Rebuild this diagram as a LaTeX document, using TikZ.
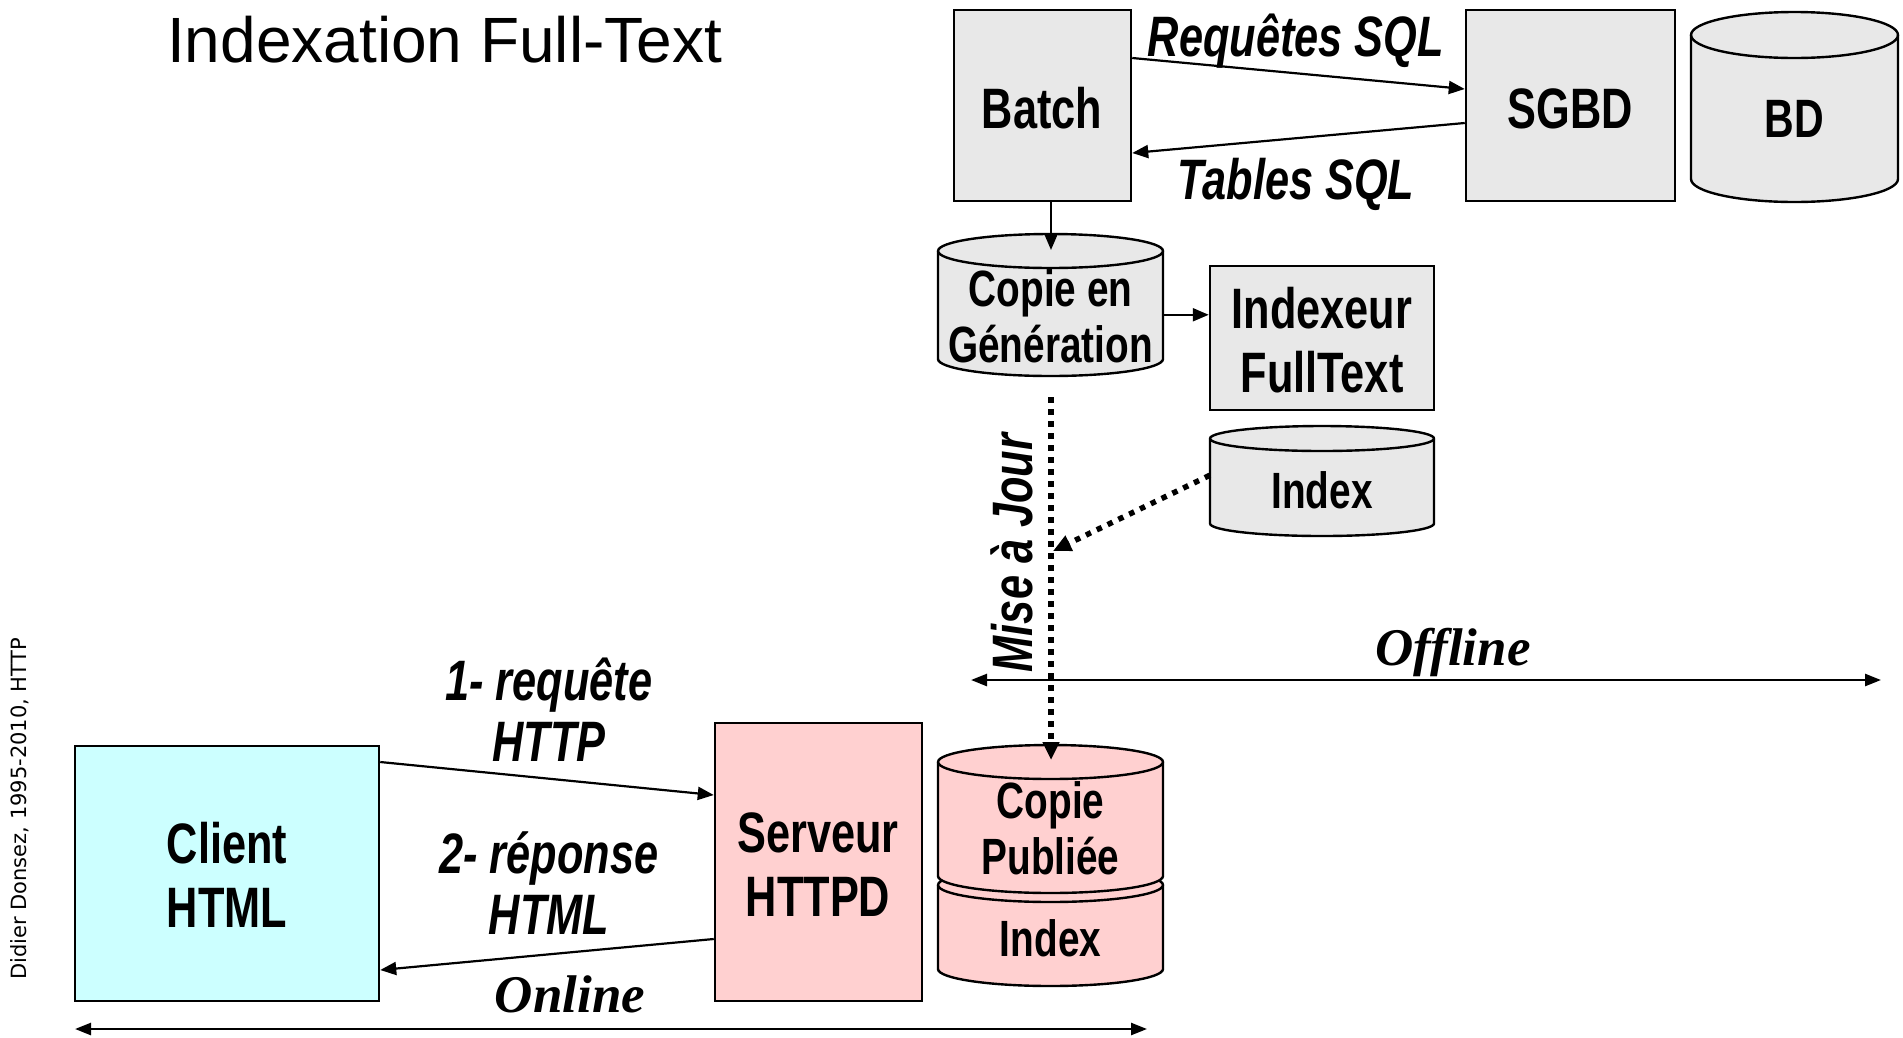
\documentclass[tikz,border=0pt]{standalone}
\usepackage{fontspec}
\setmainfont{Liberation Sans}
\newfontfamily\lblfont[FakeStretch=0.76]{Liberation Sans}
\newfontfamily\seriffont{Liberation Serif}
\newfontfamily\sidefont{DejaVu Sans}
\usetikzlibrary{arrows.meta}
\definecolor{boxgrey}{HTML}{E8E8E8}
\definecolor{cyanfill}{HTML}{CCFFFF}
\definecolor{pinkfill}{HTML}{FFD0D0}
\tikzset{
  box/.style={draw, line width=2.5pt, inner sep=0pt},
  lbl/.style={font=\lblfont\bfseries\fontsize{57}{64}\selectfont, align=center, inner sep=0pt, anchor=base},
  cyllbl/.style={font=\lblfont\bfseries\fontsize{51}{56}\selectfont, align=center, inner sep=0pt, anchor=base},
  ital/.style={font=\lblfont\bfseries\itshape\fontsize{57}{61}\selectfont, align=center, inner sep=0pt, anchor=base},
  timesital/.style={font=\seriffont\bfseries\itshape\fontsize{53}{60}\selectfont, inner sep=0pt, anchor=base},
  conn/.style={line width=2.2pt, -{Triangle[length=16pt,width=13pt]}},
  dotconn/.style={line width=5.5pt, dash pattern=on 5.5pt off 6.5pt, -{Triangle[length=18pt,width=16pt]}},
  bothconn/.style={line width=2.5pt, {Triangle[length=16pt,width=12pt]}-{Triangle[length=16pt,width=12pt]}},
  cylline/.style={line width=2.4pt},
}
\newcommand{\cylbody}[6]{%
  \pgfmathsetmacro{\cylrx}{((#2)-(#1))/2}%
  \filldraw[cylline, fill=#6] (#1,-#3-#5) -- (#1,-#4+#5)
     arc[start angle=180,end angle=360,x radius=\cylrx pt,y radius=#5pt]
     -- (#2,-#3-#5)
     arc[start angle=0,end angle=180,x radius=\cylrx pt,y radius=#5pt] -- cycle;
  \draw[cylline] (#1,-#3-#5) arc[start angle=180,end angle=360,x radius=\cylrx pt,y radius=#5pt];
}
\begin{document}
\begin{tikzpicture}[x=1pt,y=1pt]
\useasboundingbox (0,0) rectangle (1903,-1037);

% title and side note
\node[font=\fontsize{64}{70}\selectfont, inner sep=0pt, anchor=base west] (title) at (167,-62) {Indexation Full-Text};
\node[font=\sidefont\fontsize{21}{24}\selectfont, inner sep=0pt, anchor=base, rotate=90] (side) at (27,-809) {Didier Donsez, 1995-2010, HTTP};

% boxes
\node[box, fill=boxgrey, minimum width=177pt, minimum height=191pt] (batch) at (1042.5,-105.5) {};
\node[box, fill=boxgrey, minimum width=209pt, minimum height=191pt] (sgbd) at (1570.5,-105.5) {};
\node[box, fill=boxgrey, minimum width=224pt, minimum height=144pt] (indexeur) at (1322,-338) {};
\node[box, fill=cyanfill, minimum width=304pt, minimum height=255pt] (client) at (227,-873.5) {};
\node[box, fill=pinkfill, minimum width=207pt, minimum height=278pt] (serveur) at (818.5,-862) {};

% cylinders
\cylbody{1691}{1898}{12}{202}{23}{boxgrey}
\cylbody{938}{1163}{234}{376}{17}{boxgrey}
\cylbody{1210}{1434}{426}{536}{12.5}{boxgrey}
\cylbody{938}{1163}{868}{986}{17}{pinkfill}
\cylbody{938}{1163}{745}{893}{17}{pinkfill}

% labels (base = baseline of the last line)
\node[lbl] (batchtxt) at (1042,-128) {Batch};
\node[lbl] (sgbdtxt) at (1570,-128) {SGBD};
\node[lbl, font=\lblfont\bfseries\fontsize{54}{60}\selectfont] (bd) at (1794,-137) {BD};
\node[lbl] (indexeurtxt) at (1322,-392) {Indexeur\\FullText};
\node[lbl] (clienttxt) at (227,-927) {Client\\HTML};
\node[lbl] (serveurtxt) at (818,-916) {Serveur\\HTTPD};
\node[cyllbl, minimum width=225pt] (cgen) at (1050.5,-362) {Copie en\\Génération};
\node[cyllbl, minimum width=224pt] (idxg) at (1322,-508) {Index};
\node[cyllbl, minimum width=225pt] (cpub) at (1050.5,-874) {Copie\\Publiée};
\node[cyllbl, minimum width=225pt] (idxp) at (1050.5,-956) {Index};

\node[ital] (req) at (1296,-56) {Requêtes SQL};
\node[ital] (tab) at (1296,-199) {Tables SQL};
\node[ital] (l1) at (549,-761) {1- requête\\HTTP};
\node[ital] (l2) at (549,-934) {2- réponse\\HTML};
\node[ital, rotate=90] (maj) at (1032,-553) {Mise à Jour};
\node[timesital] (offline) at (1453,-665) {Offline};
\node[timesital] (online) at (570,-1012) {Online};

% coordinates
\coordinate (cgtop) at (1051,-250);
\coordinate (mjtop) at (1051,-397);
\coordinate (cpubtop) at (1051,-760);
\coordinate (mjmid) at (1053,-551);
\coordinate (offL) at (971,-680);
\coordinate (offR) at (1881,-680);
\coordinate (onL) at (75,-1029);
\coordinate (onR) at (1147,-1029);

% connectors
\draw[conn] ([yshift=47.5pt]batch.east) -- ([yshift=16.5pt]sgbd.west);
\draw[conn] ([yshift=-17.5pt]sgbd.west) -- ([yshift=-47.5pt]batch.east);
\draw[conn] ([xshift=8.5pt]batch.south) -- (cgtop);
\draw[conn] ([yshift=1pt]cgen.east) -- ([yshift=1pt]cgen.east -| indexeur.west);
\draw[dotconn] (mjtop) -- (cpubtop);
\draw[dotconn] ([yshift=14.5pt]idxg.west) -- (mjmid);
\draw[conn] ([yshift=111.5pt]client.east) -- ([yshift=67pt]serveur.west);
\draw[conn] ([yshift=-77pt]serveur.west) -- ([yshift=-96.5pt]client.east);
\draw[bothconn] (offL) -- (offR);
\draw[bothconn] (onL) -- (onR);
\end{tikzpicture}
\end{document}
